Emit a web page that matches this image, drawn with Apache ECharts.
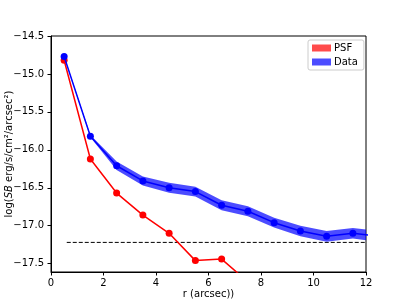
<!DOCTYPE html>
<html>
<head>
<meta charset="utf-8">
<script src="https://cdn.jsdelivr.net/npm/echarts@6/dist/echarts.min.js"></script>
<style>html,body{margin:0;padding:0;background:#fff;}#c{width:407px;height:305px;}</style>
</head>
<body>
<div id="c"></div>
<script>
// radii (arcsec)
var psfR = [0.5, 1.5, 2.5, 3.5, 4.5, 5.5, 6.5, 7.5];
var psfSB = [-14.82, -16.12, -16.57, -16.86, -17.10, -17.46, -17.44, -17.74];
var dataR = [0.5, 1.5, 2.5, 3.5, 4.5, 5.5, 6.5, 7.5, 8.5, 9.5, 10.5, 11.5, 12.5];
var dataSB = [-14.77, -15.82, -16.21, -16.41, -16.50, -16.55, -16.73, -16.81, -16.96, -17.07, -17.14, -17.10, -17.14];
var dataErr = [0.005, 0.015, 0.055, 0.06, 0.065, 0.065, 0.065, 0.065, 0.065, 0.07, 0.07, 0.07, 0.07];
var limitR = [0.6, 12];
var limitSB = [-17.22, -17.22];
var xTicks = [0, 2, 4, 6, 8, 10, 12];
var yTicks = [-17.5, -17.0, -16.5, -16.0, -15.5, -15.0, -14.5];

function pairs(xs, ys) { return xs.map(function (x, i) { return [x, ys[i]]; }); }
var bandData = dataR.map(function (x, i) { return [x, dataSB[i] - dataErr[i], dataSB[i] + dataErr[i]]; });

var font = 'DejaVu Sans';
var chart = echarts.init(document.getElementById('c'), null, {renderer: 'canvas'});
chart.setOption({
  animation: false,
  backgroundColor: '#fff',
  textStyle: {fontFamily: font},
  grid: {left: 51, right: 41, top: 36, bottom: 33, containLabel: false, outerBoundsMode: 'none',
    show: true, borderColor: '#000', borderWidth: 1, backgroundColor: 'transparent'},
  legend: {
    orient: 'vertical', left: 308, top: 40,
    itemWidth: 19, itemHeight: 7, itemGap: 4,
    padding: [3, 6, 3, 4],
    borderColor: '#ccc', borderWidth: 1, borderRadius: 2,
    backgroundColor: 'rgba(255,255,255,0.8)',
    textStyle: {fontFamily: font, fontSize: 10, color: '#000', padding: [0, 0, 0, -2]},
    data: [
      {name: 'PSF', icon: 'rect', itemStyle: {color: 'rgba(255,0,0,0.7)', borderWidth: 0}},
      {name: 'Data', icon: 'rect', itemStyle: {color: 'rgba(0,0,255,0.7)', borderWidth: 0}}
    ],
    selectedMode: false
  },
  xAxis: {
    type: 'value', min: 0, max: 12, interval: 2,
    name: 'r (arcsec))', nameLocation: 'middle', nameGap: 17, nameMoveOverlap: false,
    nameTextStyle: {fontFamily: font, fontSize: 10, color: '#000'},
    axisLine: {show: true, lineStyle: {color: '#000', width: 1}},
    axisTick: {show: true, length: 3.5, lineStyle: {color: '#000'}, customValues: xTicks},
    axisLabel: {fontFamily: font, fontSize: 10, color: '#000', margin: 6, customValues: xTicks},
    splitLine: {show: false}
  },
  yAxis: {
    type: 'value', min: -17.61, max: -14.5,
    name: 'log({i|SB} erg/s/cm²/arcsec²)', nameLocation: 'middle', nameGap: 37, nameMoveOverlap: false,
    nameTextStyle: {fontFamily: font, fontSize: 10, color: '#000', rich: {i: {fontStyle: 'italic', fontFamily: font, fontSize: 10, color: '#000'}}},
    axisLine: {show: true, lineStyle: {color: '#000', width: 1}},
    axisTick: {show: true, length: 3.5, lineStyle: {color: '#000'}, customValues: yTicks},
    axisLabel: {fontFamily: font, fontSize: 10, color: '#000', margin: 7, customValues: yTicks,
      formatter: function (v) { return v.toFixed(1).replace('-', '\u2212'); }},
    splitLine: {show: false}
  },
  series: [
    {
      name: 'limit', type: 'line', data: pairs(limitR, limitSB), symbol: 'none', silent: true,
      lineStyle: {color: '#000', width: 1, type: [4, 2]}, z: 1
    },
    {
      name: 'PSF', type: 'line', data: pairs(psfR, psfSB), symbol: 'circle', symbolSize: 7, showAllSymbol: true,
      itemStyle: {color: '#ff0000'}, lineStyle: {color: '#ff0000', width: 1.5}, z: 2
    },
    {
      name: 'band', type: 'custom', data: bandData, clip: true, silent: true, z: 3,
      encode: {x: 0, y: [1, 2]},
      renderItem: function (params, api) {
        if (params.dataIndex !== 0) return null;
        var up = [], lo = [];
        for (var i = 0; i < bandData.length; i++) {
          up.push(api.coord([bandData[i][0], bandData[i][2]]));
          lo.push(api.coord([bandData[i][0], bandData[i][1]]));
        }
        return {type: 'polygon', shape: {points: up.concat(lo.reverse())},
          style: {fill: 'rgba(0,0,255,0.7)', stroke: null}};
      }
    },
    {
      name: 'Data', type: 'line', data: pairs(dataR, dataSB), symbol: 'circle', symbolSize: 7, showAllSymbol: true,
      itemStyle: {color: '#0000ff'}, lineStyle: {color: '#0000ff', width: 1.5}, z: 4
    }
  ]
});
</script>
</body>
</html>
